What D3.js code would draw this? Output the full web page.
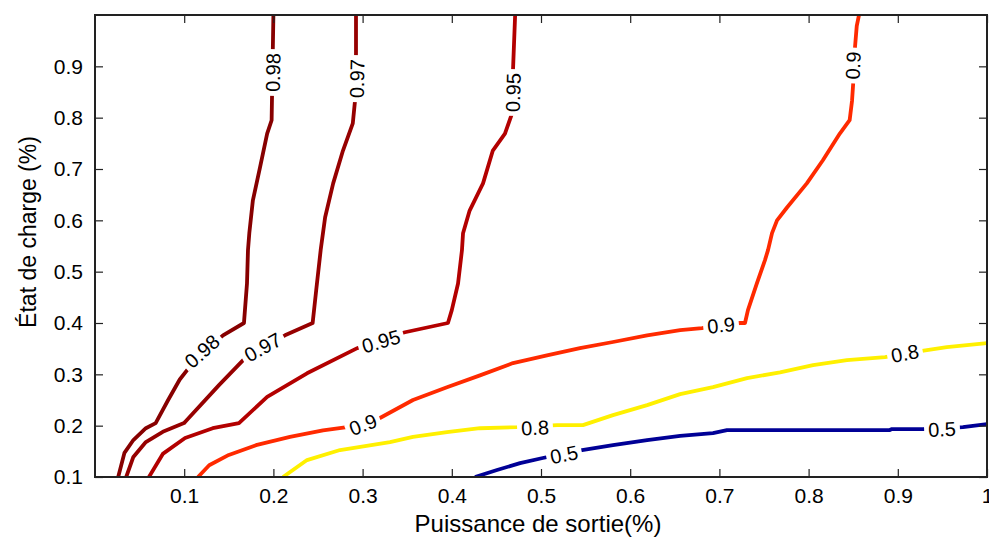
<!DOCTYPE html>
<html>
<head>
<meta charset="utf-8">
<script src="https://cdn.jsdelivr.net/npm/d3@7"></script>
<style>
  html, body { margin: 0; padding: 0; background: #fff; }
  svg { display: block; font-family: "Liberation Sans", Arial, sans-serif; }
</style>
</head>
<body>
<svg id="chart" width="989" height="542"></svg>
<script>
// ---- data ----
const xTicks = [0.1, 0.2, 0.3, 0.4, 0.5, 0.6, 0.7, 0.8, 0.9, 1];
const yTicks = [0.1, 0.2, 0.3, 0.4, 0.5, 0.6, 0.7, 0.8, 0.9];
const xTitle = "Puissance de sortie(%)";
const yTitle = "État de charge (%)";

const levels = [0.98, 0.97, 0.95, 0.9, 0.8, 0.5];
const levelColors = ["#870000", "#960000", "#b30000", "#ff2a00", "#fff000", "#000096"];

const contour098 = [
  [0.200, 1.000], [0.198, 0.795], [0.193, 0.769], [0.185, 0.703], [0.177, 0.639],
  [0.173, 0.575], [0.1715, 0.542], [0.1704, 0.477], [0.167, 0.400], [0.1435, 0.376],
  [0.121, 0.341], [0.105, 0.312], [0.095, 0.290], [0.082, 0.250], [0.068, 0.205],
  [0.057, 0.195], [0.043, 0.172], [0.033, 0.147], [0.026, 0.100]
];
const contour097 = [
  [0.2926, 1.000], [0.2926, 0.925], [0.2915, 0.833], [0.289, 0.789], [0.278, 0.736],
  [0.267, 0.672], [0.258, 0.606], [0.253, 0.542], [0.248, 0.464],
  [0.244, 0.400], [0.213, 0.376], [0.187, 0.351], [0.168, 0.331], [0.139, 0.279],
  [0.103, 0.211], [0.0998, 0.205], [0.076, 0.188], [0.057, 0.168], [0.043, 0.139],
  [0.035, 0.100]
];
const contour095 = [
  [0.471, 1.000], [0.4686, 0.892], [0.4675, 0.808], [0.4596, 0.769], [0.446, 0.736],
  [0.435, 0.672], [0.420, 0.619], [0.4126, 0.575], [0.4114, 0.542], [0.407, 0.477],
  [0.400, 0.425], [0.3957, 0.400], [0.3475, 0.382], [0.317, 0.367], [0.294, 0.351],
  [0.2377, 0.302], [0.193, 0.256], [0.1614, 0.205], [0.132, 0.195], [0.101, 0.176],
  [0.076, 0.145], [0.0605, 0.100]
];
const contour090 = [
  [0.1155, 0.100], [0.128, 0.123], [0.150, 0.143], [0.1805, 0.162], [0.2186, 0.178],
  [0.2556, 0.191], [0.2825, 0.197], [0.300, 0.202], [0.3195, 0.215], [0.3565, 0.250],
  [0.3946, 0.275], [0.4316, 0.298], [0.4686, 0.322], [0.5067, 0.337], [0.5437, 0.351],
  [0.5807, 0.363], [0.619, 0.376], [0.656, 0.386], [0.6805, 0.390], [0.7007, 0.396],
  [0.723, 0.400], [0.7287, 0.400], [0.732, 0.425], [0.742, 0.477], [0.751, 0.522],
  [0.7545, 0.542], [0.759, 0.575], [0.7646, 0.600], [0.7758, 0.625], [0.798, 0.672],
  [0.816, 0.717], [0.835, 0.769], [0.846, 0.795], [0.8487, 0.833], [0.850, 0.867],
  [0.851, 0.902], [0.852, 0.937], [0.854, 0.979], [0.8565, 1.000]
];
const contour080 = [
  [0.2108, 0.100], [0.2377, 0.133], [0.2747, 0.1525], [0.3307, 0.168], [0.3565, 0.178],
  [0.3946, 0.1875], [0.4316, 0.195], [0.473, 0.197], [0.4955, 0.199], [0.518, 0.201],
  [0.547, 0.201], [0.5807, 0.2206], [0.619, 0.240], [0.656, 0.2615], [0.6928, 0.275],
  [0.731, 0.2926], [0.768, 0.304], [0.805, 0.318], [0.843, 0.3276], [0.8857, 0.3335],
  [0.909, 0.341], [0.9327, 0.347], [0.955, 0.353], [1.000, 0.361]
];
const contour050 = [
  [0.426, 0.100], [0.4507, 0.1136], [0.4765, 0.127], [0.502, 0.137], [0.5247, 0.145],
  [0.546, 0.1525], [0.5807, 0.162], [0.619, 0.172], [0.656, 0.180], [0.6928, 0.1856],
  [0.7085, 0.1914], [0.891, 0.1914], [0.8935, 0.1934], [0.928, 0.1934], [0.9496, 0.195],
  [0.973, 0.197], [1.000, 0.203]
];
const contours = [contour098, contour097, contour095, contour090, contour080, contour050];

// label positions (data units) for each level
const labels098 = [[0.1995, 0.888], [0.120, 0.345]];
const labels097 = [[0.2937, 0.876], [0.188, 0.353]];
const labels095 = [[0.4686, 0.849], [0.3206, 0.3646]];
const labels090 = [[0.3004, 0.202], [0.7018, 0.396], [0.8498, 0.9016]];
const labels080 = [[0.4933, 0.196], [0.908, 0.341]];
const labels050 = [[0.5258, 0.144], [0.9496, 0.193]];
const labelSets = [labels098, labels097, labels095, labels090, labels080, labels050];

// ---- layout ----
const svg = d3.select("#chart");
const W = 989, H = 542;
const x = d3.scaleLinear().domain([0, 1]).range([95, 987]);
const y = d3.scaleLinear().domain([0.1, 1.0]).range([477, 15]);

svg.append("rect").attr("width", W).attr("height", H).attr("fill", "#fff");

svg.append("defs").append("clipPath").attr("id", "clip")
  .append("rect").attr("x", x(0)).attr("y", y(1)).attr("width", x(1) - x(0)).attr("height", y(0.1) - y(1));

const plot = svg.append("g").attr("clip-path", "url(#clip)");
const line = d3.line().x(d => x(d[0])).y(d => y(d[1]));

contours.forEach((c, i) => {
  plot.append("path").datum(c)
    .attr("d", line)
    .attr("fill", "none")
    .attr("stroke", levelColors[i])
    .attr("stroke-width", 3.8)
    .attr("stroke-linejoin", "round")
    .attr("stroke-linecap", "butt");
});

// labels with local angle from the nearest segment
function segAngle(c, px, py) {
  let best = null, bd = Infinity;
  for (let k = 0; k < c.length - 1; k++) {
    const ax = x(c[k][0]), ay = y(c[k][1]), bx = x(c[k + 1][0]), by = y(c[k + 1][1]);
    const dx = bx - ax, dy = by - ay, L2 = dx * dx + dy * dy || 1;
    let t = ((px - ax) * dx + (py - ay) * dy) / L2; t = Math.max(0, Math.min(1, t));
    const qx = ax + t * dx, qy = ay + t * dy;
    const d = (qx - px) ** 2 + (qy - py) ** 2;
    if (d < bd) { bd = d; best = [dx, dy]; }
  }
  let a = Math.atan2(best[1], best[0]) * 180 / Math.PI;
  if (a > 90) a -= 180;
  if (a <= -90) a += 180;
  if (a > 85) a -= 180;
  return a;
}

const labelLayer = svg.append("g");
labelSets.forEach((set, i) => {
  set.forEach(p => {
    const px = x(p[0]), py = y(p[1]);
    const ang = segAngle(contours[i], px, py);
    const g = labelLayer.append("g").attr("transform", `translate(${px},${py}) rotate(${ang})`);
    const bg = g.append("rect").attr("fill", "#fff");
    const t = g.append("text")
      .attr("text-anchor", "middle")
      .attr("dy", "0.36em")
      .attr("font-size", 20)
      .attr("fill", "#000")
      .text(String(levels[i]));
    const bb = t.node().getBBox();
    bg.attr("x", bb.x - 4).attr("y", -6).attr("width", bb.width + 8).attr("height", 12);
  });
});

// ---- axes box with inward ticks on all sides ----
const axisColor = "#222";
const tickLen = 8;
const axes = svg.append("g");

const xBottom = d3.axisBottom(x).tickValues(xTicks).tickSizeInner(-tickLen).tickSizeOuter(0)
  .tickFormat(d3.format("")).tickPadding(11);
const xTop = d3.axisTop(x).tickValues(xTicks).tickSizeInner(-tickLen).tickSizeOuter(0).tickFormat("");
const yLeft = d3.axisLeft(y).tickValues(yTicks).tickSizeInner(-tickLen).tickSizeOuter(0)
  .tickFormat(d3.format("")).tickPadding(12);
const yRight = d3.axisRight(y).tickValues(yTicks).tickSizeInner(-tickLen).tickSizeOuter(0).tickFormat("");

const gxb = axes.append("g").attr("transform", `translate(0,${y(0.1)})`).call(xBottom);
const gxt = axes.append("g").attr("transform", `translate(0,${y(1)})`).call(xTop);
const gyl = axes.append("g").attr("transform", `translate(${x(0)},0)`).call(yLeft);
const gyr = axes.append("g").attr("transform", `translate(${x(1)},0)`).call(yRight);

[gxb, gxt, gyl, gyr].forEach(g => {
  g.select(".domain").remove();
  g.selectAll(".tick line").attr("stroke", axisColor).attr("stroke-width", 1.2);
  g.selectAll("text").attr("font-size", 21).attr("fill", "#000")
    .attr("font-family", "'Liberation Sans', Arial, sans-serif");
});

axes.append("rect")
  .attr("x", x(0)).attr("y", y(1))
  .attr("width", x(1) - x(0)).attr("height", y(0.1) - y(1))
  .attr("fill", "none").attr("stroke", axisColor).attr("stroke-width", 2);

// titles
svg.append("text")
  .attr("x", 538).attr("y", 532)
  .attr("text-anchor", "middle")
  .attr("font-size", 24).attr("fill", "#000")
  .text(xTitle);

svg.append("text")
  .attr("transform", `translate(36,232) rotate(-90)`)
  .attr("text-anchor", "middle")
  .attr("font-size", 23).attr("fill", "#000")
  .text(yTitle);
</script>
</body>
</html>
